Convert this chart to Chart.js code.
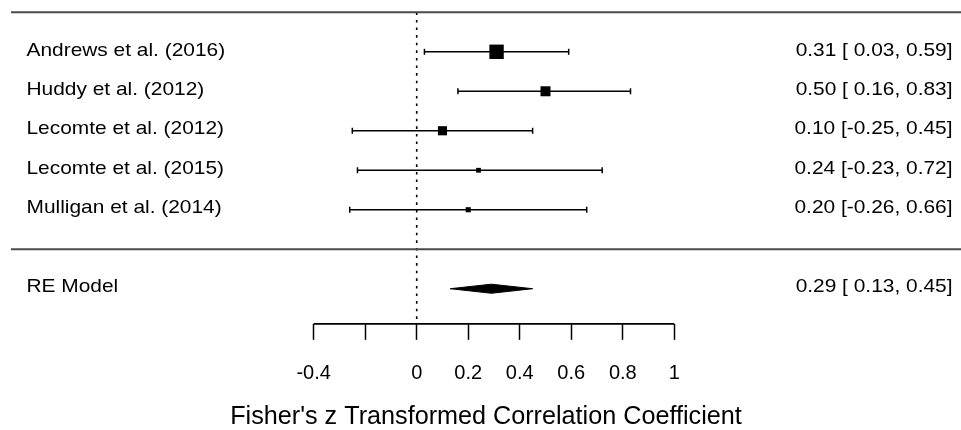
<!DOCTYPE html>
<html>
<head>
<meta charset="utf-8">
<script src="https://cdn.jsdelivr.net/npm/chart.js@4.4.0/dist/chart.umd.min.js"></script>
<style>
  html, body { margin: 0; padding: 0; background: #ffffff; }
  canvas { display: block; }
</style>
</head>
<body>
<canvas id="forest" width="961" height="430"></canvas>
<script>
// ---------------- data ----------------
const studies = ["Andrews et al. (2016)", "Huddy et al. (2012)", "Lecomte et al. (2012)", "Lecomte et al. (2015)", "Mulligan et al. (2014)"];
const estimates = [0.31, 0.50, 0.10, 0.24, 0.20];
const ciLower = [0.03, 0.16, -0.25, -0.23, -0.26];
const ciUpper = [0.59, 0.83, 0.45, 0.72, 0.66];
const weights = [32.7, 22.9, 21.0, 11.4, 12.1];   // estimated study weights (%)
const summaryLabel = "RE Model";
const summaryEstimate = 0.29;
const summaryLower = 0.13;
const summaryUpper = 0.45;
const xTickValues = [-0.4, -0.2, 0, 0.2, 0.4, 0.6, 0.8, 1];
const xTickLabels = ["-0.4", "", "0", "0.2", "0.4", "0.6", "0.8", "1"];
const xTitle = "Fisher's z Transformed Correlation Coefficient";

// ---------------- layout / style ----------------
const FONT = '"Liberation Sans", Arial, Helvetica, sans-serif';
const LABEL_SIZE = 19;
const LABEL_STRETCH = 1.1;
const TICK_SIZE = 20;
const TITLE_SIZE = 25.2;
const X_MIN = -1.575, X_MAX = 2.113;
const Y_MIN = -1.89, Y_MAX = 6;
const k = studies.length;
const rows = studies.map((_, i) => k - i);   // 5..1
const summaryRow = -1;
const topRow = k + 1;
const sepRow = 0;

// text formatting like R's forest()
const fmt = v => v.toFixed(2);
const allLo = ciLower.concat([summaryLower]).map(fmt);
const allHi = ciUpper.concat([summaryUpper]).map(fmt);
const allEst = estimates.concat([summaryEstimate]).map(fmt);
const wLo = Math.max(...allLo.map(s => s.length));
const wHi = Math.max(...allHi.map(s => s.length));
const wEst = Math.max(...allEst.map(s => s.length));
const ciText = allEst.map((e, i) =>
  e.padStart(wEst, ' ') + ' [' + allLo[i].padStart(wLo, ' ') + ', ' + allHi[i].padStart(wHi, ' ') + ']');

// marker size from weights (metafor-style psize 0.5..1.5)
const wMin = Math.min(...weights), wMax = Math.max(...weights);
const psize = weights.map(w => 0.5 + (w - wMin) / (wMax - wMin));
const squareRadius = psize.map(p => (p * 9.6) / (2 * Math.SQRT1_2));

// ---------------- datasets ----------------
const lineBase = { showLine: true, pointRadius: 0, clip: false, fill: false, tension: 0 };
const datasets = [];

datasets.push(Object.assign({}, lineBase, {
  data: [{ x: X_MIN, y: topRow }, { x: X_MAX, y: topRow }],
  borderColor: '#4a4a4a', borderWidth: 2
}));
datasets.push(Object.assign({}, lineBase, {
  data: [{ x: X_MIN, y: sepRow }, { x: X_MAX, y: sepRow }],
  borderColor: '#4a4a4a', borderWidth: 2
}));
datasets.push(Object.assign({}, lineBase, {
  data: [{ x: 0, y: topRow }, { x: 0, y: Y_MIN }],
  borderColor: '#000', borderWidth: 1.6, borderDash: [2.6, 5]
}));
studies.forEach((s, i) => {
  datasets.push(Object.assign({}, lineBase, {
    data: [{ x: ciLower[i], y: rows[i] }, { x: ciUpper[i], y: rows[i] }],
    borderColor: '#000', borderWidth: 1.6,
    pointRadius: 3, pointStyle: 'line', pointRotation: 90,
    pointBorderColor: '#000', pointBorderWidth: 1.5
  }));
});
datasets.push({
  data: estimates.map((e, i) => ({ x: e, y: rows[i] })),
  pointStyle: 'rect', pointRadius: squareRadius,
  pointBackgroundColor: '#000', pointBorderWidth: 0, clip: false
});
const dh = 0.115;
datasets.push(Object.assign({}, lineBase, {
  data: [
    { x: summaryLower, y: summaryRow },
    { x: summaryEstimate, y: summaryRow + dh },
    { x: summaryUpper, y: summaryRow },
    { x: summaryEstimate, y: summaryRow - dh },
    { x: summaryLower, y: summaryRow }
  ],
  borderColor: '#000', borderWidth: 1, backgroundColor: '#000', fill: 'shape'
}));
datasets.push(Object.assign({}, lineBase, {
  data: [{ x: xTickValues[0], y: Y_MIN }, { x: xTickValues[xTickValues.length - 1], y: Y_MIN }],
  borderColor: '#000', borderWidth: 1.6
}));

// ---------------- text plugin ----------------
const textPlugin = {
  id: 'forestText',
  afterDatasetsDraw(chart) {
    const { ctx, chartArea, scales } = chart;
    const y = scales.y;
    ctx.save();
    ctx.font = LABEL_SIZE + 'px ' + FONT;
    ctx.fillStyle = '#000';
    ctx.textBaseline = 'middle';
    const lx = chartArea.left + 15.5;
    const rx = chartArea.right - 8.5;
    const allLabels = studies.concat([summaryLabel]);
    const allRows = rows.concat([summaryRow]);
    allLabels.forEach((lab, i) => {
      const py = y.getPixelForValue(allRows[i]) - 1.5;
      ctx.save();
      ctx.translate(lx, py); ctx.scale(LABEL_STRETCH, 1);
      ctx.textAlign = 'left';
      ctx.fillText(lab, 0, 0);
      ctx.restore();
      ctx.save();
      ctx.translate(rx, py); ctx.scale(LABEL_STRETCH, 1);
      ctx.textAlign = 'right';
      ctx.fillText(ciText[i], 0, 0);
      ctx.restore();
    });
    ctx.restore();
  }
};

// ---------------- chart ----------------
new Chart(document.getElementById('forest'), {
  type: 'scatter',
  data: { datasets },
  options: {
    responsive: false,
    animation: false,
    events: [],
    layout: { autoPadding: false, padding: { left: 11, right: 0, top: 12.3, bottom: 0 } },
    plugins: { legend: { display: false }, tooltip: { enabled: false } },
    scales: {
      x: {
        type: 'linear', min: X_MIN, max: X_MAX,
        afterBuildTicks: scale => { scale.ticks = xTickValues.map(v => ({ value: v })); },
        ticks: {
          autoSkip: false, maxRotation: 0, minRotation: 0,
          padding: 21.7, color: '#000',
          font: { family: FONT, size: TICK_SIZE },
          callback: (v, i) => xTickLabels[i]
        },
        grid: { drawOnChartArea: false, drawTicks: true, tickLength: 16, tickColor: '#000', tickWidth: 1.5 },
        border: { display: false },
        title: {
          display: true, text: xTitle, color: '#000',
          font: { family: FONT, size: TITLE_SIZE, lineHeight: 1.2 },
          padding: { top: -5, bottom: -2.5 }
        }
      },
      y: { type: 'linear', min: Y_MIN, max: Y_MAX, display: false }
    }
  },
  plugins: [textPlugin]
});
</script>
</body>
</html>
